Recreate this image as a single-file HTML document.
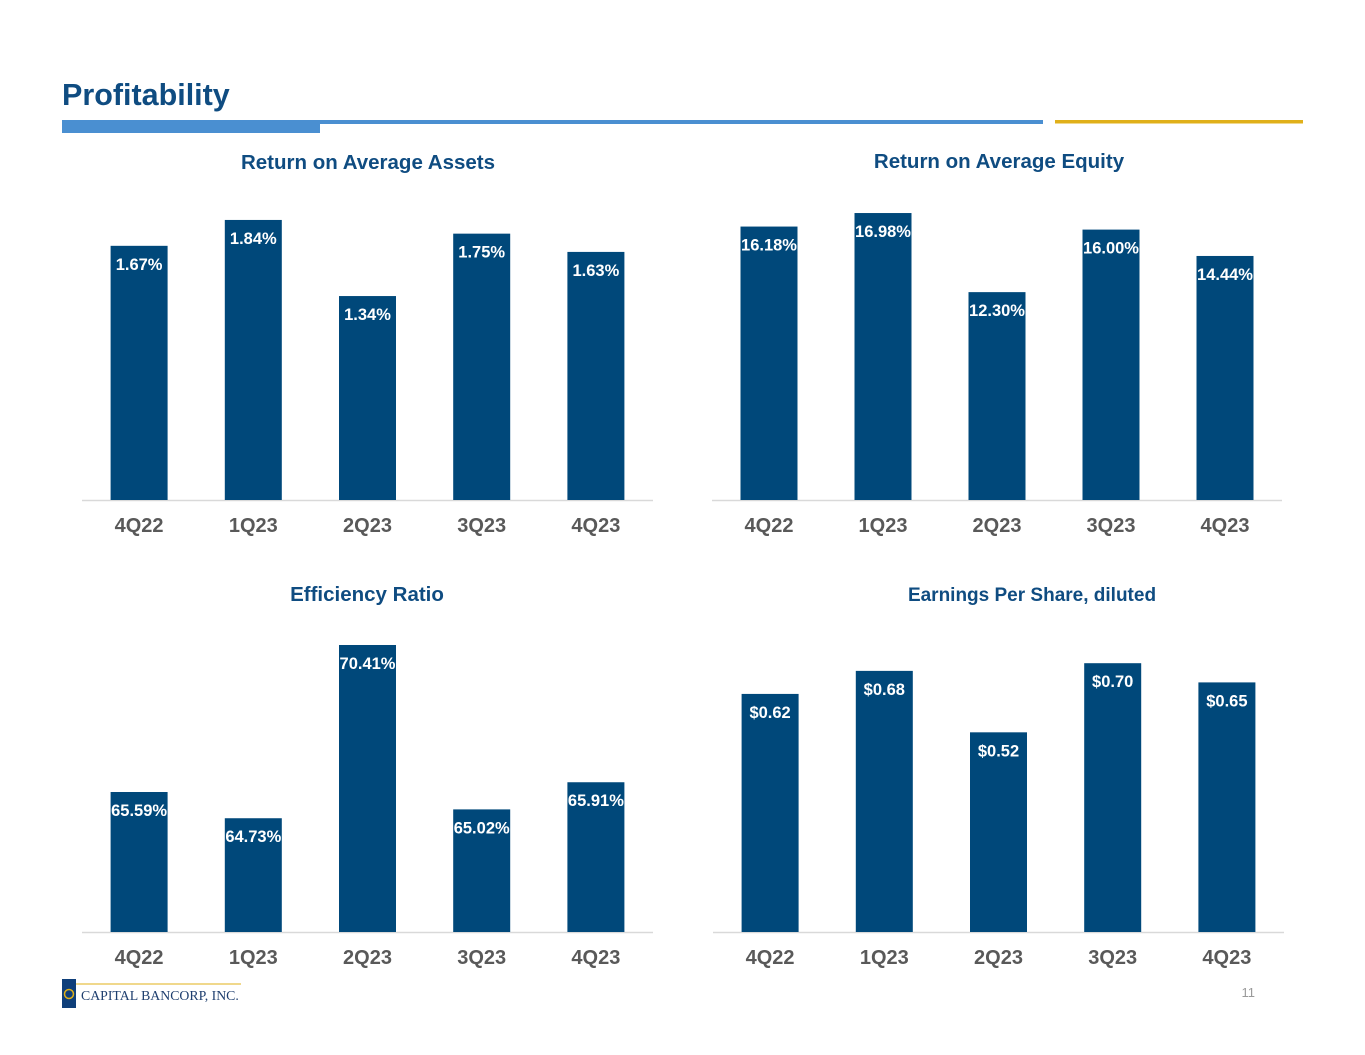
<!DOCTYPE html>
<html><head><meta charset="utf-8"><style>
body{margin:0;background:#fff;}
svg{display:block;font-family:"Liberation Sans",Arial,sans-serif;}
</style></head><body>
<svg id="s" width="1365" height="1055" viewBox="0 0 1365 1055">
<text x="62" y="105" font-size="30.5" font-weight="bold" fill="#0f4c81">Profitability</text>
<rect x="62" y="120" width="258" height="13" fill="#4a8fd1"/>
<rect x="320" y="120" width="723" height="4" fill="#4a8fd1"/>
<rect x="1055" y="120" width="248" height="3.5" fill="#e0b01a"/>
<g>
<rect x="62" y="979" width="14" height="29" fill="#0f3f7a"/>
<circle cx="69" cy="994" r="4.5" fill="none" stroke="#e0b01a" stroke-width="1.5"/>
<line x1="76" y1="984" x2="241" y2="984" stroke="#e0b01a" stroke-width="1"/>
<text x="81" y="1000" font-family="Liberation Serif,serif" font-size="13.8" fill="#1f3f6f">CAPITAL BANCORP, INC.</text>
</g>
<text x="1255" y="997" font-size="13" fill="#9a9a9a" text-anchor="end">11</text>
</svg>
<script>
const categories=["4Q22","1Q23","2Q23","3Q23","4Q23"];
const roaaValues=[1.67,1.84,1.34,1.75,1.63];
const roaaLabels=["1.67%","1.84%","1.34%","1.75%","1.63%"];
const roaeValues=[16.18,16.98,12.30,16.00,14.44];
const roaeLabels=["16.18%","16.98%","12.30%","16.00%","14.44%"];
const effValues=[65.59,64.73,70.41,65.02,65.91];
const effLabels=["65.59%","64.73%","70.41%","65.02%","65.91%"];
const epsValues=[0.62,0.68,0.52,0.70,0.65];
const epsLabels=["$0.62","$0.68","$0.52","$0.70","$0.65"];

const NS="http://www.w3.org/2000/svg";
const svg=document.getElementById('s');
function mk(tag,attrs,parent){const e=document.createElementNS(NS,tag);for(const k in attrs)e.setAttribute(k,attrs[k]);parent.appendChild(e);return e;}
function chart(cfg){
  const g=mk('g',{},svg);
  
  
  const t=mk('text',{x:cfg.tx,y:cfg.ty,'font-size':cfg.tfs,'font-weight':'bold',fill:'#0f4c81','text-anchor':'middle'},g);
  t.textContent=cfg.title;
  
  
  const ax=mk('line',{x1:cfg.x0,x2:cfg.x1,y1:cfg.base+0.5,y2:cfg.base+0.5,stroke:'#d9d9d9','stroke-width':1.5},g);
  
  
  const step=(cfg.x1-cfg.x0)/categories.length;
  const xs=i=>cfg.x0+step*(i+0.5);
  const ys=v=>cfg.base-(v-cfg.min)*cfg.scale;
  cfg.values.forEach((v,i)=>{
    const top=ys(v),cx=xs(i);
    const b=mk('rect',{x:cx-28.5,y:top,width:57,height:cfg.base-top,fill:'#00487a'},g);
    
    
    const l=mk('text',{x:cx,y:top+24,'font-size':16.5,'font-weight':'bold',fill:'#fff','text-anchor':'middle'},g);
    l.textContent=cfg.labels[i];
    
    
    const c=mk('text',{x:cx,y:cfg.base+32,'font-size':20,'font-weight':'bold',fill:'#595959','text-anchor':'middle'},g);
    c.textContent=categories[i];
    
    
  });
}
chart({name:'roaa-chart',title:'Return on Average Assets',tx:368,ty:169,tfs:20.5,x0:82,x1:653,base:500,min:0,scale:152.2,values:roaaValues,labels:roaaLabels});
chart({name:'roae-chart',title:'Return on Average Equity',tx:999,ty:168,tfs:20.5,x0:712,x1:1282,base:500,min:0,scale:16.9,values:roaeValues,labels:roaeLabels});
chart({name:'efficiency-chart',title:'Efficiency Ratio',tx:367,ty:601,tfs:20.5,x0:82,x1:653,base:932,min:61,scale:30.5,values:effValues,labels:effLabels});
chart({name:'eps-chart',title:'Earnings Per Share, diluted',tx:1032,ty:601,tfs:19,x0:713,x1:1284,base:932,min:0,scale:384,values:epsValues,labels:epsLabels});
</script>
</body></html>
